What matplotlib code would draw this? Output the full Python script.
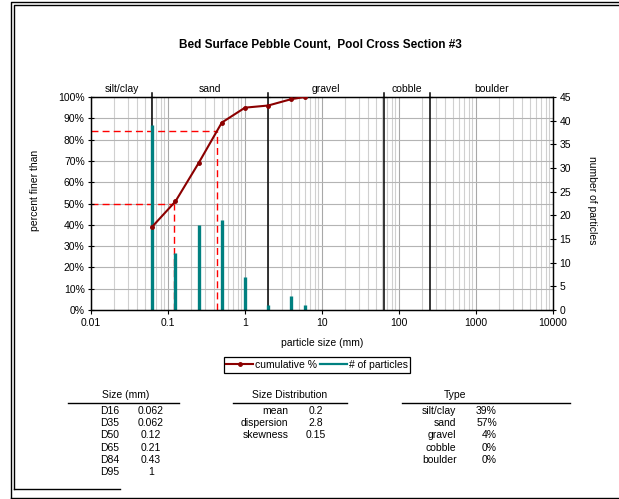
import numpy as np
import matplotlib.pyplot as plt
from matplotlib.lines import Line2D
from matplotlib.ticker import FixedLocator, NullFormatter

plt.rcParams['font.family'] = ['Liberation Sans', 'DejaVu Sans']
plt.rcParams['font.size'] = 7.5

# data
sizes = [0.062, 0.125, 0.25, 0.5, 1, 2, 4, 6]
counts = [39, 12, 18, 19, 7, 1, 3, 1]
cum_pct = [39, 51, 69, 88, 95, 96, 99, 100]

d50, d84 = 0.12, 0.43
class_bounds = [0.01, 0.062, 2, 64, 256, 10000]
class_names = ['silt/clay', 'sand', 'gravel', 'cobble', 'boulder']

size_rows = ['D16', 'D35', 'D50', 'D65', 'D84', 'D95']
size_vals = ['0.062', '0.062', '0.12', '0.21', '0.43', '1']
dist_rows = ['mean', 'dispersion', 'skewness']
dist_vals = ['0.2', '2.8', '0.15']
type_rows = ['silt/clay', 'sand', 'gravel', 'cobble', 'boulder']
type_vals = ['39%', '57%', '4%', '0%', '0%']

W, H = 619, 499
fig = plt.figure(figsize=(W / 100, H / 100), dpi=100)

def fx(px):
    return px / W

def fy(py):
    return 1 - py / H

ax = fig.add_axes([fx(91), fy(310), fx(553) - fx(91), fy(97) - fy(310)])
ax.set_xscale('log')
ax.set_xlim(0.01, 10000)
ax.set_ylim(0, 100)

ax2 = ax.twinx()
ax2.set_ylim(0, 45)

# grid (drawn on the back axes so the bars sit on top of it)
for d in range(-2, 4):
    for m in range(2, 10):
        ax2.axvline(m * 10.0 ** d, color='#d0d0d0', lw=0.8, zorder=0)
    ax2.axvline(10.0 ** d, color='#a8a8a8', lw=0.8, zorder=0)
for yv in range(10, 100, 10):
    ax2.axhline(yv * 0.45, color='#b4b4b4', lw=0.8, zorder=0)

# class boundaries
for b in class_bounds[1:-1]:
    ax2.plot([b, b], [0, 45.8], color='black', lw=1.1, clip_on=False, zorder=1)
    ax2.plot([b / 1.06, b * 1.06], [45, 45], color='black', lw=0.8, clip_on=False, zorder=1)
for lo, hi, name in zip(class_bounds[:-1], class_bounds[1:], class_names):
    ax.text(np.sqrt(lo * hi), 101.5, name, ha='center', va='bottom', fontsize=7.5)

# D50 / D84 guide lines
for dv, pv in [(d50, 50), (d84, 84)]:
    ax2.plot([0.01, dv], [pv * 0.45, pv * 0.45], color='red', lw=1, ls=(0, (5, 3)), zorder=1.5)
    ax2.plot([dv, dv], [0, pv * 0.45], color='red', lw=1, ls=(0, (5, 3)), zorder=1.5)

ax2.vlines(sizes, 0, counts, color='#008080', lw=2.4, zorder=2)

ax.set_zorder(ax2.get_zorder() + 1)
ax.patch.set_visible(False)

ax.plot(sizes, cum_pct, color='#8b0000', lw=1.5, marker='o', ms=2.5, zorder=5)

ax.xaxis.set_major_locator(FixedLocator([0.01, 0.1, 1, 10, 100, 1000, 10000]))
ax.set_xticklabels(['0.01', '0.1', '1', '10', '100', '1000', '10000'])
ax.xaxis.set_minor_locator(FixedLocator([]))
ax.xaxis.set_minor_formatter(NullFormatter())
ax.set_yticks(range(0, 101, 10))
ax.set_yticklabels([f'{v}%' for v in range(0, 101, 10)])
ax2.set_yticks(range(0, 46, 5))
ax.tick_params(axis='x', direction='out', length=3, width=0.8, pad=3)
ax.tick_params(axis='y', direction='inout', length=5, width=0.8, pad=2)
ax2.tick_params(axis='y', direction='inout', length=5, width=0.8, pad=2)
for a in (ax, ax2):
    for s in a.spines.values():
        s.set_color('black')
        s.set_linewidth(0.9)

fig.text(fx(35), fy(190), 'percent finer than', rotation=90, ha='center', va='center')
fig.text(fx(592), fy(200), 'number of particles', rotation=270, ha='center', va='center')
fig.text(fx(322), fy(343), 'particle size (mm)', ha='center', va='center')
fig.text(fx(320), fy(45), 'Bed Surface Pebble Count,  Pool Cross Section #3',
         ha='center', va='center', fontsize=8.5, fontweight='bold')

handles = [Line2D([], [], color='#8b0000', lw=1.5, marker='o', ms=2.5),
           Line2D([], [], color='#008080', lw=1.6)]
leg = fig.legend(handles, ['cumulative %', '# of particles'], loc='center',
                 bbox_to_anchor=(fx(317), fy(365)), ncol=2, frameon=True,
                 fancybox=False, edgecolor='black', framealpha=1,
                 handlelength=2.6, handletextpad=0.15, columnspacing=0.3,
                 borderpad=0.25, fontsize=7.5)
leg.get_frame().set_linewidth(0.9)

# summary tables
row_y = [410.5, 423, 435.3, 447.7, 460, 472.3]
fig.text(fx(126), fy(395), 'Size (mm)', ha='center', va='center')
fig.add_artist(Line2D([fx(68), fx(179)], [fy(402.7)] * 2, color='black', lw=1))
for y, r, v in zip(row_y, size_rows, size_vals):
    fig.text(fx(100.5), fy(y), r, ha='left', va='center')
    fig.text(fx(151), fy(y), v, ha='center', va='center')

fig.text(fx(290), fy(395), 'Size Distribution', ha='center', va='center')
fig.add_artist(Line2D([fx(233), fx(347)], [fy(402.7)] * 2, color='black', lw=1))
for y, r, v in zip(row_y, dist_rows, dist_vals):
    fig.text(fx(288.5), fy(y), r, ha='right', va='center')
    fig.text(fx(316), fy(y), v, ha='center', va='center')

fig.text(fx(455), fy(395), 'Type', ha='center', va='center')
fig.add_artist(Line2D([fx(402), fx(570)], [fy(402.7)] * 2, color='black', lw=1))
for y, r, v in zip(row_y, type_rows, type_vals):
    fig.text(fx(456.5), fy(y), r, ha='right', va='center')
    fig.text(fx(497), fy(y), v, ha='right', va='center')

# chart frame
fig.add_artist(Line2D([fx(11), fx(11), fx(619)], [fy(497.5), fy(2), fy(2)], color='black', lw=1))
fig.add_artist(Line2D([fx(13.5), fx(13.5), fx(619)], [fy(489), fy(4.5), fy(4.5)], color='black', lw=1))
fig.add_artist(Line2D([fx(11), fx(619)], [fy(497.5), fy(497.5)], color='black', lw=1))
fig.add_artist(Line2D([fx(13.5), fx(120)], [fy(489), fy(489)], color='black', lw=1))

fig.savefig('out.png', dpi=100)
